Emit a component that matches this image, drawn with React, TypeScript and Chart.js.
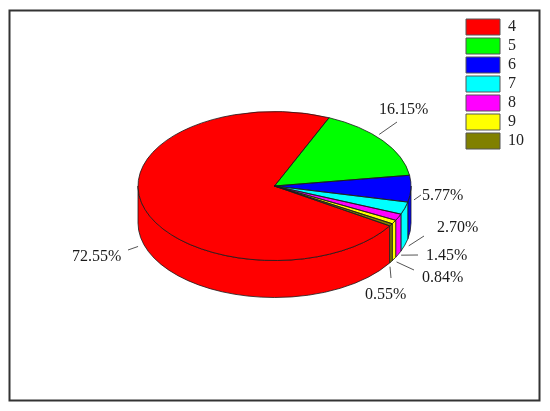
import React, { useEffect, useRef } from "react";
import { Chart, registerables } from "chart.js";

Chart.register(...registerables);

const categories = ["4", "5", "6", "7", "8", "9", "10"];
const shares = [72.55, 16.15, 5.77, 2.7, 1.45, 0.84, 0.55];
const colors = ["#ff0000", "#00ff00", "#0000ff", "#00ffff", "#ff00ff", "#ffff00", "#808000"];

const FONT = "'Liberation Serif', 'Times New Roman', serif";
const CX = 274.5;
const CY = 186;
const RX = 136.5;
const RY = 74.5;
const DEPTH = 37;
const LINE = "#1a1a1a";

// Label placement: text left / middle, leader end, nudges for the leader start
const labelX = [72, 379, 422, 437, 426, 422, 365];
const labelY = [257, 110, 196, 228, 256, 278, 295];
const leaderEndX = [128, 397, 421, 424, 418, 414, 391];
const leaderEndY = [250, 122, 195, 236, 255, 270, 278];
const leaderDepth = [1, 0, 0.3, 1, 1, 1.05, 1.1];
const leaderNudgeX = [-2, -7, -1, 0, -1, -1, -4.5];
const leaderNudgeY = [1, -5, 0, 0, 0, 0, 0];

const TAU = Math.PI * 2;

function visibleSpans(a0: number, a1: number) {
  const spans: [number, number][] = [];
  for (const [lo, hi] of [[0, Math.PI], [TAU, TAU + Math.PI]]) {
    const s = Math.max(a0, lo);
    const e = Math.min(a1, hi);
    if (e > s) spans.push([s, e]);
  }
  return spans;
}

const pie3d = {
  id: "pie3d",
  beforeDraw(chart: any) {
    const { ctx } = chart;
    ctx.save();
    ctx.fillStyle = "#ffffff";
    ctx.fillRect(0, 0, chart.width, chart.height);
    ctx.strokeStyle = "#333333";
    ctx.lineWidth = 2;
    ctx.strokeRect(9.5, 10.5, 530, 390);
    ctx.restore();
  },
  beforeDatasetsDraw(chart: any) {
    const { ctx } = chart;
    const arcs = chart.getDatasetMeta(0).data;
    ctx.save();
    ctx.lineWidth = 0.8;
    ctx.strokeStyle = LINE;
    arcs.forEach((el: any, i: number) => {
      for (const [s, e] of visibleSpans(el.startAngle, el.endAngle)) {
        ctx.beginPath();
        ctx.ellipse(CX, CY, RX, RY, 0, s, e);
        ctx.ellipse(CX, CY + DEPTH, RX, RY, 0, e, s, true);
        ctx.closePath();
        ctx.fillStyle = colors[i];
        ctx.fill();
        ctx.stroke();
      }
    });
    ctx.restore();
    // squash the library's round pie into the tilted top face
    const first = arcs[0];
    ctx.save();
    ctx.translate(CX, CY);
    ctx.scale(1, RY / RX);
    ctx.translate(-first.x, -first.y);
  },
  afterDatasetsDraw(chart: any) {
    const { ctx } = chart;
    ctx.restore();
    const arcs = chart.getDatasetMeta(0).data;
    ctx.save();
    ctx.lineWidth = 0.8;
    ctx.strokeStyle = LINE;
    arcs.forEach((el: any) => {
      ctx.beginPath();
      ctx.moveTo(CX, CY);
      ctx.ellipse(CX, CY, RX, RY, 0, el.startAngle, el.endAngle);
      ctx.closePath();
      ctx.stroke();
    });
    ctx.font = `16px ${FONT}`;
    ctx.textBaseline = "middle";
    ctx.textAlign = "left";
    arcs.forEach((el: any, i: number) => {
      const mid = (el.startAngle + el.endAngle) / 2;
      const sx = CX + Math.cos(mid) * RX * 1.03 + leaderNudgeX[i];
      const sy = CY + Math.sin(mid) * RY * 1.03 + DEPTH * leaderDepth[i] + leaderNudgeY[i];
      ctx.strokeStyle = "#555555";
      ctx.lineWidth = 1;
      ctx.beginPath();
      ctx.moveTo(sx, sy);
      ctx.lineTo(leaderEndX[i], leaderEndY[i]);
      ctx.stroke();
      ctx.fillStyle = "#1a1a1a";
      ctx.fillText(`${shares[i].toFixed(2)}%`, labelX[i], labelY[i]);
    });
    ctx.restore();
  },
};

export default function App() {
  const ref = useRef<HTMLCanvasElement>(null);
  useEffect(() => {
    if (!ref.current) return;
    const chart = new Chart(ref.current, {
      type: "pie",
      data: {
        labels: categories,
        datasets: [
          {
            data: shares,
            backgroundColor: colors,
            borderWidth: 0,
            radius: RX,
            clip: false,
          } as any,
        ],
      },
      options: {
        responsive: false,
        animation: false,
        rotation: 122.4,
        layout: { padding: { top: 16, right: 16, left: 0, bottom: 0 } },
        plugins: {
          tooltip: { enabled: false },
          title: { display: false },
          legend: {
            position: "right",
            align: "start",
            labels: {
              boxWidth: 34,
              boxHeight: 16,
              padding: 3,
              color: "#222222",
              font: { family: FONT, size: 16 },
              generateLabels: () =>
                categories.map((text, i) => ({
                  text,
                  fillStyle: colors[i],
                  strokeStyle: "#555555",
                  lineWidth: 1,
                  fontColor: "#222222",
                  index: i,
                })),
            },
          },
        },
      },
      plugins: [pie3d],
    } as any);
    return () => chart.destroy();
  }, []);
  return (
    <div style={{ position: "absolute", left: 0, top: 0, width: 550, height: 411 }}>
      <canvas ref={ref} width={550} height={411} style={{ display: "block" }} />
    </div>
  );
}
